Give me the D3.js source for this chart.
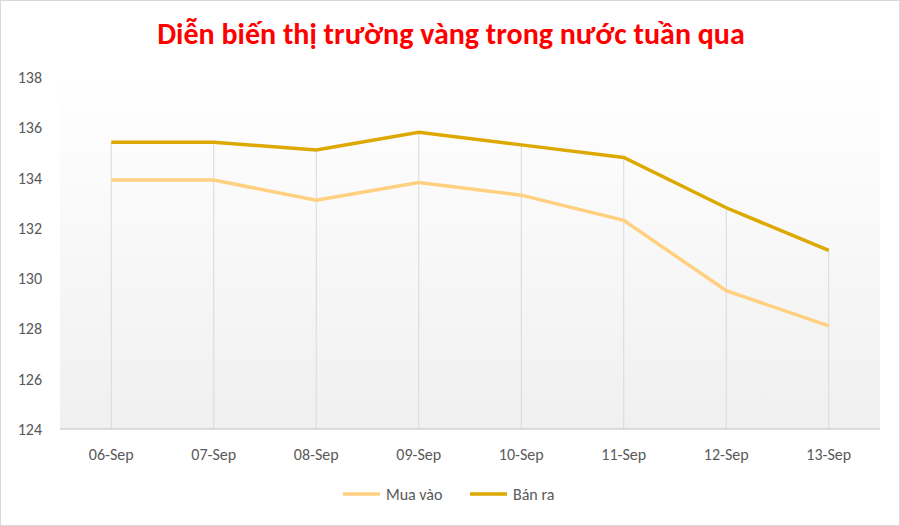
<!DOCTYPE html>
<html><head><meta charset="utf-8">
<script src="https://cdn.jsdelivr.net/npm/d3@7"></script>
<style>body{margin:0;background:#fff}svg{font-family:Calibri,Carlito,"Liberation Sans",Arial,sans-serif}</style>
</head><body><svg id="c" width="900" height="526"></svg>
<script>
const categories=["06-Sep","07-Sep","08-Sep","09-Sep","10-Sep","11-Sep","12-Sep","13-Sep"];
const muaVao=[133.9,133.9,133.1,133.8,133.3,132.3,129.5,128.1];
const banRa=[135.4,135.4,135.1,135.8,135.3,134.8,132.8,131.1];
const yTicks=[124,126,128,130,132,134,136,138];
const svg=d3.select("#c");
const defs=svg.append("defs");
const g=defs.append("linearGradient").attr("id","bg").attr("x1",0).attr("x2",0).attr("y1",0).attr("y2",1);
g.append("stop").attr("offset","0%").attr("stop-color","#ffffff");
g.append("stop").attr("offset","100%").attr("stop-color","#f0f0f0");
svg.append("rect").attr("x",0.5).attr("y",0.5).attr("width",899).attr("height",525).attr("fill","#fff").attr("stroke","#d9d9d9");
const L=60,R=880,T=77,B=429;
const x=d3.scaleBand().domain(categories).range([L,R]);
const y=d3.scaleLinear().domain([124,138]).range([B,T]);
svg.append("rect").attr("x",L).attr("y",T).attr("width",R-L).attr("height",B-T).attr("fill","url(#bg)");
const cx=c=>x(c)+x.bandwidth()/2;
svg.selectAll(".drop").data(categories).join("line").attr("x1",cx).attr("x2",cx)
 .attr("y1",(c,i)=>y(banRa[i])).attr("y2",B).attr("stroke","#d9d9d9").attr("stroke-width",1);
svg.append("line").attr("x1",L).attr("x2",R).attr("y1",B).attr("y2",B).attr("stroke","#bfbfbf");
svg.selectAll(".yt").data(yTicks).join("text").attr("x",42).attr("y",d=>y(d)+6).attr("text-anchor","end")
 .attr("font-size",16).attr("fill","#595959").text(d=>d);
svg.selectAll(".xt").data(categories).join("text").attr("x",cx).attr("y",460).attr("text-anchor","middle")
 .attr("font-size",16).attr("fill","#595959").text(d=>d);
const line=d3.line().x((d,i)=>cx(categories[i])).y(d=>y(d));
svg.append("path").datum(muaVao).attr("d",line).attr("fill","none").attr("stroke","#FFD07F").attr("stroke-width",3.5);
svg.append("path").datum(banRa).attr("d",line).attr("fill","none").attr("stroke","#DDA800").attr("stroke-width",3.5);
svg.append("text").attr("x",451).attr("y",44).attr("text-anchor","middle").attr("font-size",30).attr("font-weight","bold")
 .attr("fill","#ff0000").text("Diễn biến thị trường vàng trong nước tuần qua");
const leg=[["Mua vào","#FFD07F",343],["Bán ra","#DDA800",470]];
leg.forEach(([t,c,lx])=>{
 svg.append("line").attr("x1",lx).attr("x2",lx+37).attr("y1",494).attr("y2",494).attr("stroke",c).attr("stroke-width",3.5);
 svg.append("text").attr("x",lx+43).attr("y",500).attr("font-size",16).attr("fill","#595959").text(t);
});
</script></body></html>
